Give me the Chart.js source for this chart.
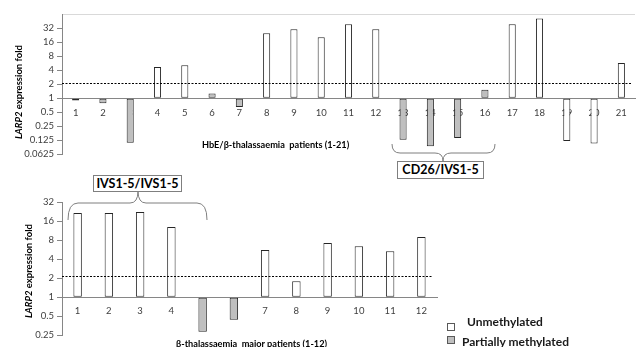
<!DOCTYPE html>
<html><head><meta charset="utf-8">
<script src="https://cdn.jsdelivr.net/npm/chart.js@4"></script>
<style>
html,body{margin:0;padding:0;background:#fff;width:643px;height:347px;overflow:hidden;font-family:Lato,'Liberation Sans',sans-serif;}
canvas{position:absolute;left:0;}
#c1{top:0;}
#c2{top:190px;}
.yt{position:absolute;transform:translate(-50%,-50%) rotate(-90deg);white-space:nowrap;font-weight:bold;font-size:9.5px;color:#000;}
.xt{position:absolute;white-space:nowrap;font-weight:bold;font-size:9.2px;color:#000;transform:translateY(-50%);}
.box{position:absolute;border:1px solid #7f7f7f;background:#fff;font-weight:bold;font-size:12.5px;color:#000;text-align:center;box-sizing:border-box;line-height:15px;}
.lg{position:absolute;font-weight:bold;font-size:12px;color:#1a1a1a;white-space:nowrap;transform:translateY(-50%);}
.sw{position:absolute;width:8px;height:8px;box-sizing:border-box;border:1px solid #595959;}
svg{position:absolute;left:0;top:0;}
</style>
</head><body>
<canvas id="c1" width="643" height="170"></canvas>
<canvas id="c2" width="445" height="157"></canvas>
<svg width="643" height="347">
  <path d="M392,144 Q392,153 400,153 L435,153 Q443,153 443,161 Q443,153 451,153 L487,153 Q495,153 495,144" fill="none" stroke="#7f7f7f" stroke-width="1"/>
  <path d="M68,220 Q68,203 78,203 L130,203 Q138,203 138,191 Q138,203 146,203 L197,203 Q207,203 207,220" fill="none" stroke="#7f7f7f" stroke-width="1"/>
</svg>
<div class="box" style="left:397px;top:161px;width:87px;height:18px;">CD26/IVS1-5</div>
<div class="box" style="left:93px;top:175px;width:89px;height:17px;">IVS1-5/IVS1-5</div>
<div class="yt" style="left:18px;top:92px;"><i>LARP2</i> expression fold</div>
<div class="yt" style="left:28px;top:271px;"><i>LARP2</i> expression fold</div>
<div class="xt" style="left:202px;top:144px;">HbE/β-thalassaemia&nbsp; patients (1-21)</div>
<div class="xt" style="left:176px;top:343px;">β-thalassaemia&nbsp; major patients (1-12)</div>
<div class="sw" style="left:447px;top:323px;background:#fff;"></div>
<div class="lg" style="left:467px;top:321px;">Unmethylated</div>
<div class="sw" style="left:447px;top:336px;background:#bfbfbf;"></div>
<div class="lg" style="left:462px;top:341px;">Partially methylated</div>
<script>
// ---- data ----
const topCategories = ['1','2','3','4','5','6','7','8','9','10','11','12','13','14','15','16','17','18','19','20','21'];
const topValues = [0.89,0.78,0.11,4.66,5.06,1.26,0.65,24.8,30.2,20.4,38.6,30.2,0.129,0.093,0.14,1.51,38.6,51,0.12,0.106,5.68];
const topStatus = ['P','P','P','U','U','P','P','U','U','U','U','U','P','P','P','P','U','U','U','U','U'];
const topYTicks = [0.0625,0.125,0.25,0.5,1,2,4,8,16,32,64];
const topYLabels = ['0.0625','0.125','0.25','0.5','1','2','4','8','16','32',''];

const bottomCategories = ['1','2','3','4','5','6','7','8','9','10','11','12'];
const bottomValues = [21.7,21.7,22.5,13,0.285,0.44,5.62,1.79,7.26,6.43,5.36,9.04];
const bottomStatus = ['U','U','U','U','P','P','U','U','U','U','U','U'];
const bottomYTicks = [0.25,0.5,1,2,4,8,16,32];
const bottomYLabels = ['0.25','0.5','1','2','4','8','16','32'];

const threshold = 2.14;
const statusColors = {U:'#ffffff', P:'#bfbfbf'};

const thresholdPlugin = {
  id:'threshold',
  afterDatasetsDraw(chart){
    const {ctx, chartArea, scales} = chart;
    const py = Math.round(scales.y.getPixelForValue(threshold)) + 0.5;
    ctx.save();
    ctx.setLineDash([2,1.5]);
    ctx.strokeStyle = '#000';
    ctx.lineWidth = 1;
    ctx.beginPath();
    ctx.moveTo(chartArea.left, py);
    ctx.lineTo(chartArea.right - 4, py);
    ctx.stroke();
    ctx.restore();
  }
};

function makeChart(id, cats, vals, status, yTicks, yLabels, ymin, ymax, barPct, pad, labelPad, showTop){
  return new Chart(document.getElementById(id), {
    type:'bar',
    data:{
      labels:cats,
      datasets:[{
        data:vals,
        base:1,
        backgroundColor:status.map(s=>statusColors[s]),
        borderColor:'#262626',
        borderWidth:1,
        borderSkipped:false,
        barPercentage:barPct,
        categoryPercentage:1
      }]
    },
    options:{
      responsive:false,
      animation:false,
      devicePixelRatio:1,
      layout:{padding:pad},
      plugins:{legend:{display:false},tooltip:{enabled:false}},
      scales:{
        x:{
          position:{y:1},
          z:1,
          grid:{display:false,drawTicks:false},
          border:{color:'#868686'},
          ticks:{font:{family:'Lato',size:9.5},color:'#404040',padding:labelPad,maxRotation:0,autoSkip:false}
        },
        y:{
          type:'logarithmic',
          min:ymin, max:ymax,
          afterBuildTicks:s=>{ s.ticks = yTicks.map(v=>({value:v})); },
          afterFit:s=>{ s.width = 62; },
          ticks:{
            autoSkip:false,
            font:{family:'Lato',size:9.5},color:'#404040',padding:3,
            callback:(v,i)=>yLabels[i]
          },
          grid:{
            color:c=> (showTop && c.tick && c.tick.value===ymax) ? '#d9d9d9' : 'rgba(0,0,0,0)',
            tickColor:c=> (c.tick && c.tick.value===ymax && showTop) ? 'rgba(0,0,0,0)' : '#868686',
            tickLength:5
          },
          border:{color:'#868686'}
        }
      }
    },
    plugins:[thresholdPlugin]
  });
}

makeChart('c1', topCategories, topValues, topStatus, topYTicks, topYLabels, 0.0625, 64, 0.26, {left:0,right:8,top:14,bottom:15.7}, 9, true);
makeChart('c2', bottomCategories, bottomValues, bottomStatus, bottomYTicks, bottomYLabels, 0.25, 32, 0.27, {left:0,right:8,top:12.3,bottom:11.7}, 8, false);
</script>
</body></html>
